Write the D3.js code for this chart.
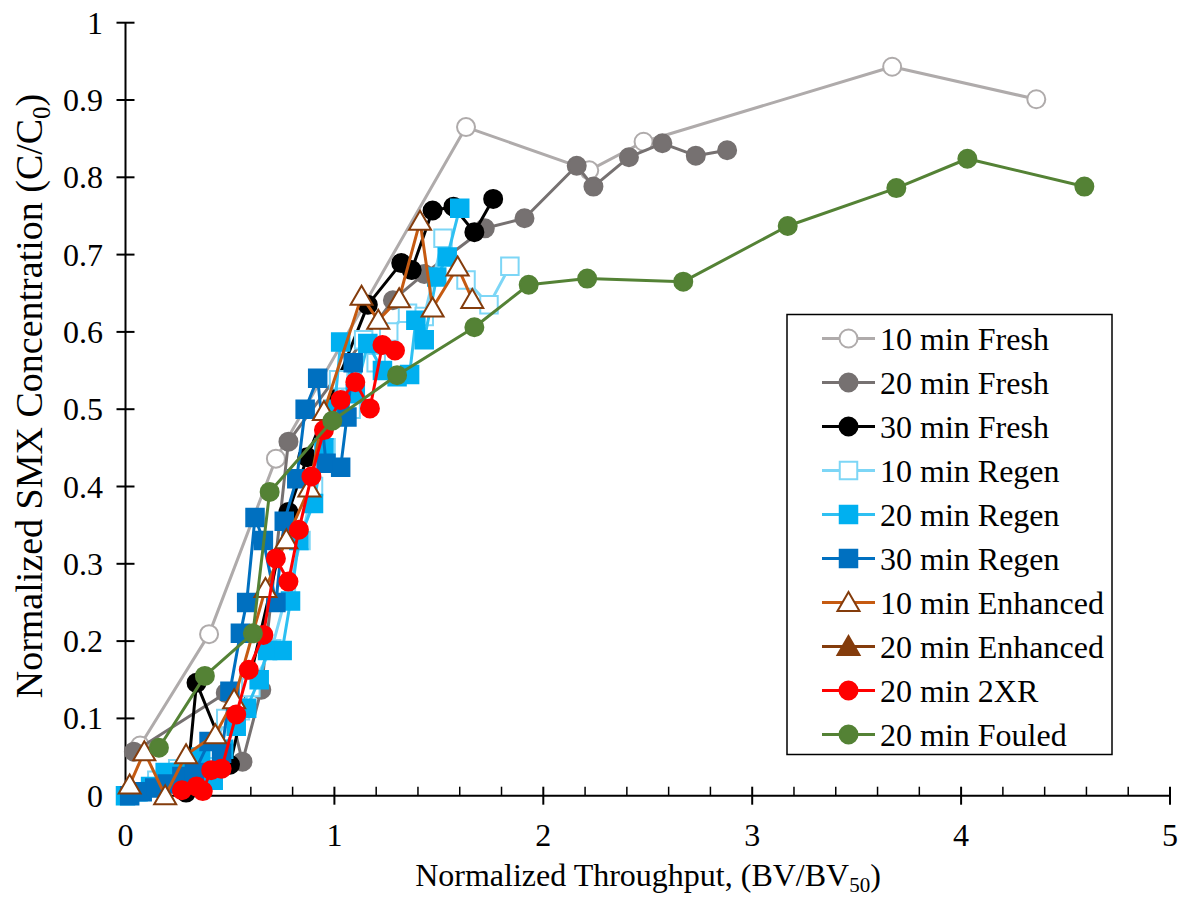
<!DOCTYPE html>
<html>
<head>
<meta charset="utf-8">
<script src="https://cdn.jsdelivr.net/npm/d3@7"></script>
<style>
  body { margin: 0; background: #fff; }
  text { font-family: "Liberation Serif", "Times New Roman", serif; fill: #000; }
</style>
</head>
<body>
<svg id="chart" width="1181" height="899"></svg>
<script>
const width = 1181;
const height = 899;

// data: [throughput BV/BV50, C/C0]
const fresh10 = [[0.07,0.065],[0.40,0.209],[0.72,0.436],[1.63,0.865],[2.22,0.809],[2.48,0.846],[3.67,0.943],[4.36,0.901]];
const fresh20 = [[0.04,0.057],[0.48,0.133],[0.56,0.044],[0.65,0.137],[0.78,0.458],[1.28,0.641],[1.43,0.675],[1.72,0.734],[1.91,0.747],[2.16,0.815],[2.24,0.788],[2.41,0.826],[2.57,0.844],[2.73,0.828],[2.88,0.835]];
const fresh30 = [[0.29,0.004],[0.34,0.146],[0.50,0.040],[0.78,0.367],[0.87,0.438],[1.16,0.635],[1.32,0.689],[1.37,0.680],[1.47,0.757],[1.57,0.762],[1.67,0.729],[1.76,0.772]];
const regen10 = [[0.05,0.005],[0.15,0.02],[0.25,0.035],[0.33,0.04],[0.42,0.06],[0.48,0.10],[0.55,0.11],[0.60,0.14],[0.70,0.19],[0.77,0.26],[0.84,0.33],[0.90,0.40],[0.96,0.45],[1.02,0.538],[1.08,0.50],[1.14,0.59],[1.20,0.56],[1.26,0.60],[1.35,0.624],[1.43,0.62],[1.52,0.721],[1.63,0.667],[1.74,0.635],[1.84,0.685]];
const regen20 = [[0.0,0.0],[0.06,0.005],[0.12,0.012],[0.19,0.03],[0.26,0.03],[0.31,0.032],[0.36,0.05],[0.42,0.02],[0.47,0.06],[0.53,0.09],[0.58,0.113],[0.64,0.15],[0.68,0.188],[0.75,0.188],[0.79,0.252],[0.83,0.33],[0.90,0.378],[0.95,0.45],[1.0,0.50],[1.03,0.587],[1.10,0.52],[1.16,0.585],[1.23,0.55],[1.30,0.542],[1.36,0.545],[1.39,0.615],[1.43,0.59],[1.49,0.671],[1.54,0.697],[1.60,0.76]];
const regen30 = [[0.02,0.0],[0.08,0.005],[0.14,0.01],[0.20,0.015],[0.27,0.025],[0.33,0.03],[0.40,0.07],[0.46,0.055],[0.50,0.135],[0.55,0.21],[0.58,0.25],[0.62,0.36],[0.66,0.33],[0.72,0.25],[0.76,0.355],[0.82,0.41],[0.86,0.50],[0.92,0.54],[0.96,0.43],[1.03,0.425],[1.06,0.49],[1.09,0.56]];
const enh10 = [[0.02,0.014],[0.09,0.057],[0.19,0.0],[0.29,0.053],[0.43,0.079],[0.52,0.124],[0.67,0.268],[0.77,0.331],[0.88,0.398],[0.95,0.497],[1.13,0.646],[1.21,0.615],[1.31,0.643],[1.41,0.743],[1.47,0.631],[1.59,0.684],[1.66,0.642]];
const enh20 = [];
const xr2 = [[0.27,0.007],[0.34,0.012],[0.37,0.006],[0.41,0.033],[0.46,0.035],[0.53,0.105],[0.59,0.163],[0.66,0.208],[0.72,0.307],[0.78,0.277],[0.83,0.344],[0.89,0.413],[0.95,0.473],[1.03,0.512],[1.10,0.535],[1.17,0.501],[1.23,0.583],[1.29,0.576]];
const fouled = [[0.16,0.062],[0.38,0.155],[0.61,0.210],[0.69,0.393],[0.99,0.485],[1.30,0.544],[1.67,0.606],[1.93,0.661],[2.21,0.669],[2.67,0.665],[3.17,0.737],[3.69,0.786],[4.03,0.824],[4.59,0.788]];

const xTicks = [0, 1, 2, 3, 4, 5];
const yTicks = [0, 0.1, 0.2, 0.3, 0.4, 0.5, 0.6, 0.7, 0.8, 0.9, 1];

const series = [
  { name: "10 min Fresh", data: fresh10, line: "#afabab", stroke: "#afabab", fill: "#fff", shape: "circle" },
  { name: "20 min Fresh", data: fresh20, line: "#767171", stroke: "#767171", fill: "#767171", shape: "circle" },
  { name: "30 min Fresh", data: fresh30, line: "#000", stroke: "#000", fill: "#000", shape: "circle" },
  { name: "10 min Regen", data: regen10, line: "#7dd6f6", stroke: "#7dd6f6", fill: "#fff", shape: "square" },
  { name: "20 min Regen", data: regen20, line: "#2ec0f2", stroke: "#00b0f0", fill: "#00b0f0", shape: "square" },
  { name: "30 min Regen", data: regen30, line: "#0070c0", stroke: "#0070c0", fill: "#0070c0", shape: "square" },
  { name: "10 min Enhanced", data: enh10, line: "#c55a11", stroke: "#843c0c", fill: "#fff", shape: "triangle" },
  { name: "20 min Enhanced", data: enh20, line: "#843c0c", stroke: "#843c0c", fill: "#843c0c", shape: "triangle" },
  { name: "20 min 2XR", data: xr2, line: "#ff0000", stroke: "#ff0000", fill: "#ff0000", shape: "circle" },
  { name: "20 min Fouled", data: fouled, line: "#548235", stroke: "#548235", fill: "#548235", shape: "circle" }
];

const x = d3.scaleLinear().domain([0, 5]).range([125.5, 1170]);
const y = d3.scaleLinear().domain([0, 1]).range([795.7, 22.7]);

const svg = d3.select("#chart");

// marker path generator
function markerPath(shape) {
  if (shape === "circle") return d3.symbol(d3.symbolCircle, Math.PI * 9 * 9)();
  if (shape === "square") return d3.symbol(d3.symbolSquare, 17.5 * 17.5)();
  return "M0,-10.5L11,8.5L-11,8.5Z";
}

// axes
const axisG = svg.append("g");
axisG.append("line").attr("x1", x(0)).attr("x2", x(5)).attr("y1", y(0)).attr("y2", y(0))
  .attr("stroke", "#000").attr("stroke-width", 2);
axisG.append("line").attr("x1", x(0)).attr("x2", x(0)).attr("y1", y(0)).attr("y2", y(1))
  .attr("stroke", "#000").attr("stroke-width", 2);

// y ticks (cross the axis)
axisG.selectAll(".ytick").data(yTicks).join("line")
  .attr("x1", x(0) - 9).attr("x2", x(0) + 9)
  .attr("y1", d => y(d)).attr("y2", d => y(d))
  .attr("stroke", "#000").attr("stroke-width", 2);
axisG.selectAll(".ylab").data(yTicks).join("text")
  .attr("x", 103).attr("y", d => y(d) + 11)
  .attr("text-anchor", "end").attr("font-size", 32)
  .text(d => d3.format("~g")(d));

// x ticks: major cross, minor inside
axisG.selectAll(".xtick").data(xTicks).join("line")
  .attr("x1", d => x(d)).attr("x2", d => x(d))
  .attr("y1", y(0) - 9).attr("y2", y(0) + 9)
  .attr("stroke", "#000").attr("stroke-width", 2);
const minor = d3.range(0, 25).map(i => i * 0.2).filter(v => Math.abs(v - Math.round(v)) > 1e-6);
axisG.selectAll(".xminor").data(minor).join("line")
  .attr("x1", d => x(d)).attr("x2", d => x(d))
  .attr("y1", y(0) - 9).attr("y2", y(0))
  .attr("stroke", "#000").attr("stroke-width", 1.5);
axisG.selectAll(".xlab").data(xTicks).join("text")
  .attr("x", d => x(d)).attr("y", 846)
  .attr("text-anchor", "middle").attr("font-size", 32)
  .text(d => d);

// axis titles
const xt = svg.append("text").attr("x", 648).attr("y", 886)
  .attr("text-anchor", "middle").attr("font-size", 32);
xt.append("tspan").text("Normalized Throughput, (BV/BV");
xt.append("tspan").attr("font-size", 21).attr("dy", 6).text("50");
xt.append("tspan").attr("dy", -6).text(")");

const yt = svg.append("text")
  .attr("transform", "translate(42,396) rotate(-90)")
  .attr("text-anchor", "middle").attr("font-size", 38);
yt.append("tspan").text("Normalized SMX Concentration (C/C");
yt.append("tspan").attr("font-size", 25).attr("dy", 8).text("0");
yt.append("tspan").attr("dy", -8).text(")");

// series
const line = d3.line().x(d => x(d[0])).y(d => y(d[1]));
series.forEach(s => {
  const g = svg.append("g");
  g.append("path").datum(s.data).attr("d", line)
    .attr("fill", "none").attr("stroke", s.line).attr("stroke-width", 3)
    .attr("stroke-linejoin", "round");
  g.selectAll("path.m").data(s.data).join("path").attr("class", "m")
    .attr("d", markerPath(s.shape))
    .attr("transform", d => `translate(${x(d[0])},${y(d[1])})`)
    .attr("fill", s.fill).attr("stroke", s.stroke).attr("stroke-width", 2);
});

// legend
const lg = svg.append("g");
lg.append("rect").attr("x", 787).attr("y", 314.5).attr("width", 325).attr("height", 440)
  .attr("fill", "#fff").attr("stroke", "#000").attr("stroke-width", 1.5);
series.forEach((s, i) => {
  const cy = 338.5 + i * 44;
  lg.append("line").attr("x1", 822).attr("x2", 875).attr("y1", cy).attr("y2", cy)
    .attr("stroke", s.line).attr("stroke-width", 3);
  lg.append("path").attr("d", markerPath(s.shape))
    .attr("transform", `translate(848.5,${cy})`)
    .attr("fill", s.fill).attr("stroke", s.stroke).attr("stroke-width", 2);
  lg.append("text").attr("x", 880).attr("y", cy + 11).attr("font-size", 32).text(s.name);
});
</script>
</body>
</html>
